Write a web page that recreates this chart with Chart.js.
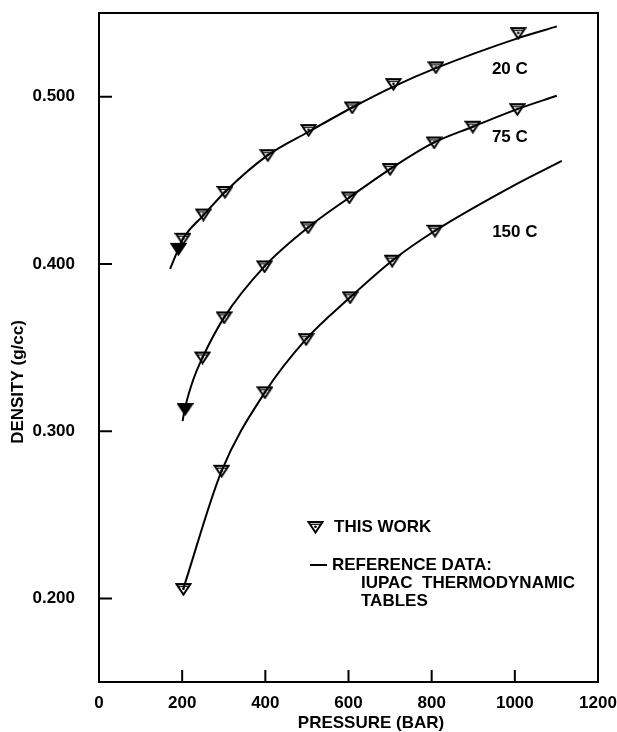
<!DOCTYPE html>
<html>
<head>
<meta charset="utf-8">
<script src="https://cdn.jsdelivr.net/npm/chart.js@4/dist/chart.umd.min.js"></script>
<style>
  html, body { margin: 0; padding: 0; background: #fff; }
  .wrap { width: 617px; height: 732px; position: relative; }
</style>
</head>
<body>
<div class="wrap"><canvas id="densityChart"></canvas></div>
<script>
const FONT = '"Liberation Sans", Arial, Helvetica, sans-serif';

const xTicks = [0, 200, 400, 600, 800, 1000, 1200];
const yTicks = [0.2, 0.3, 0.4, 0.5];

// this work (open triangles)
const p20 = [202, 251, 303, 406, 504, 609, 708, 810, 1008];
const d20 = [0.415, 0.4295, 0.443, 0.465, 0.480, 0.4935, 0.5075, 0.5175, 0.538];
const p75 = [249, 301, 398, 503, 602, 700, 806, 899, 1006];
const d75 = [0.344, 0.368, 0.3985, 0.4218, 0.4397, 0.4567, 0.4726, 0.482, 0.4925];
const p150 = [203, 295, 399, 498, 604, 705, 808];
const d150 = [0.2056, 0.2763, 0.3232, 0.355, 0.380, 0.4019, 0.4198];

// filled triangles
const pFilled = [191, 207];
const dFilled = [0.409, 0.3132];

// reference data curves (IUPAC tables)
const refP20 = [171, 191, 202, 251, 303, 406, 504, 609, 708, 810, 1008, 1101];
const refD20 = [0.397, 0.409, 0.415, 0.429, 0.443, 0.465, 0.479, 0.4935, 0.506, 0.517, 0.535, 0.542];
const refP75 = [201, 207, 227, 249, 301, 398, 503, 602, 700, 806, 899, 1006, 1101];
const refD75 = [0.306, 0.314, 0.331, 0.344, 0.368, 0.3985, 0.4218, 0.4397, 0.4567, 0.4726, 0.482, 0.4925, 0.5005];
const refP150 = [203, 295, 399, 498, 604, 705, 808, 996, 1113];
const refD150 = [0.206, 0.2763, 0.3232, 0.355, 0.380, 0.4019, 0.4198, 0.4467, 0.4616];

const curveLabels = ['20 C', '75 C', '150 C'];
const labelP = [988, 988, 1000];
const labelD = [0.5164, 0.4758, 0.419];

const pts = (xs, ys) => xs.map((x, i) => ({ x: x, y: ys[i] }));

function triangleIcon(filled) {
    const c = document.createElement('canvas');
    c.width = 17; c.height = 14;
    const g = c.getContext('2d');
    g.beginPath();
    g.moveTo(1.5, 2); g.lineTo(15.5, 2); g.lineTo(8.5, 12.5); g.closePath();
    g.fillStyle = filled ? '#000' : '#fff';
    g.fill();
    g.lineWidth = 2;
    g.strokeStyle = '#000';
    g.stroke();
    if (!filled) {
        g.beginPath();
        g.moveTo(4, 4.3); g.lineTo(13, 4.3);
        g.lineWidth = 1.2;
        g.stroke();
        g.beginPath();
        g.arc(8.5, 6.8, 1.3, 0, Math.PI * 2);
        g.fillStyle = '#000';
        g.fill();
    }
    return c;
}
const openTri = triangleIcon(false);
const filledTri = triangleIcon(true);

function curve(xs, ys) {
    return {
        data: pts(xs, ys), showLine: true, pointRadius: 0,
        borderColor: '#000', borderWidth: 2, cubicInterpolationMode: 'monotone'
    };
}
function marks(xs, ys, icon) {
    return { data: pts(xs, ys), showLine: false, pointStyle: icon, pointRadius: 7 };
}

const decor = {
    id: 'decor',
    afterDraw(chart) {
        const { ctx, chartArea: a, scales: { x, y } } = chart;
        ctx.save();
        ctx.strokeStyle = '#000';
        ctx.lineWidth = 2;
        ctx.strokeRect(a.left, a.top, a.right - a.left, a.bottom - a.top);
        ctx.beginPath();
        yTicks.forEach(v => {
            const py = y.getPixelForValue(v);
            ctx.moveTo(a.left, py); ctx.lineTo(a.left + 13, py);
        });
        xTicks.slice(1, -1).forEach(v => {
            const px = x.getPixelForValue(v);
            ctx.moveTo(px, a.bottom); ctx.lineTo(px, a.bottom - 12);
        });
        ctx.stroke();

        ctx.fillStyle = '#000';
        ctx.font = 'bold 17px ' + FONT;
        ctx.textAlign = 'center';
        ctx.textBaseline = 'middle';
        curveLabels.forEach((t, i) => {
            ctx.fillText(t, x.getPixelForValue(labelP[i]), y.getPixelForValue(labelD[i]));
        });

        // axis titles
        ctx.fillText('PRESSURE (BAR)', a.left + 272, a.bottom + 41);
        ctx.save();
        ctx.translate(18, a.top + 369);
        ctx.rotate(-Math.PI / 2);
        ctx.fillText('DENSITY (g/cc)', 0, 0);
        ctx.restore();

        // legend
        const lx = a.left + 216, ly = a.top + 514;
        ctx.drawImage(openTri, lx - 8, ly - 7);
        ctx.textAlign = 'left';
        ctx.fillText('THIS WORK', lx + 19, ly);
        ctx.beginPath();
        ctx.moveTo(lx - 5, ly + 38); ctx.lineTo(lx + 12, ly + 38);
        ctx.stroke();
        ctx.fillText('REFERENCE DATA:', lx + 17, ly + 38);
        ctx.fillText('IUPAC  THERMODYNAMIC', lx + 46, ly + 56);
        ctx.fillText('TABLES', lx + 46, ly + 74);
        ctx.restore();
    }
};

const ctx = document.getElementById('densityChart').getContext('2d');
const densityChart = new Chart(ctx, {
    type: 'scatter',
    data: {
        datasets: [
            curve(refP20, refD20),
            curve(refP75, refD75),
            curve(refP150, refD150),
            marks(p20, d20, openTri),
            marks(p75, d75, openTri),
            marks(p150, d150, openTri),
            marks(pFilled, dFilled, filledTri)
        ]
    },
    plugins: [decor],
    options: {
        responsive: true,
        maintainAspectRatio: false,
        animation: false,
        layout: { padding: { top: 13, right: 19, left: 0, bottom: 0 } },
        plugins: { legend: { display: false }, tooltip: { enabled: false } },
        scales: {
            x: {
                type: 'linear', min: 0, max: 1200,
                afterBuildTicks: s => { s.ticks = xTicks.map(v => ({ value: v })); },
                afterFit: s => { s.height = 50; s.paddingLeft = 0; s.paddingRight = 0; },
                grid: { display: false },
                border: { display: false },
                ticks: { color: '#000', padding: 3, maxRotation: 0, autoSkip: false, callback: v => String(v), font: { family: FONT, size: 17, weight: 'bold' } }
            },
            y: {
                min: 0.15, max: 0.55,
                afterBuildTicks: s => { s.ticks = yTicks.map(v => ({ value: v })); },
                afterFit: s => { s.width = 99; s.paddingTop = 0; s.paddingBottom = 0; },
                grid: { display: false },
                border: { display: false },
                ticks: { color: '#000', padding: 16, callback: v => v.toFixed(3), font: { family: FONT, size: 17, weight: 'bold' } }
            }
        }
    }
});
</script>
</body>
</html>
